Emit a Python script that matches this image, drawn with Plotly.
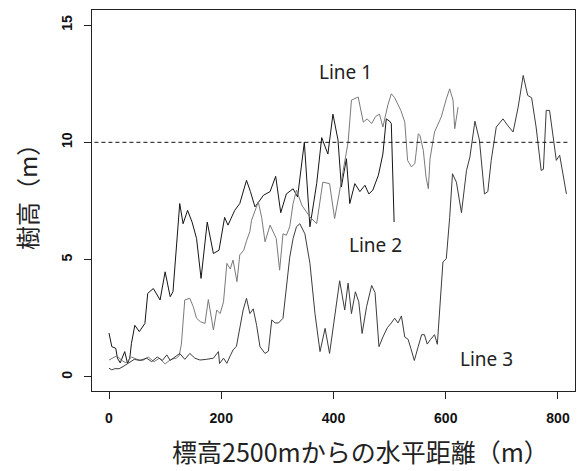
import plotly.graph_objects as go

# ---- data ----
a_x = [0, 5, 12, 15, 20, 28, 33, 37, 40, 46, 54, 64, 69, 79, 91, 100, 109, 114, 126, 132, 140, 148, 156, 164,
       175, 186, 196, 206, 212, 224, 233, 245, 252, 260, 268, 275, 287, 297, 306, 316, 328, 336, 348, 358, 370,
       379, 390, 399, 408, 414, 423, 429, 438, 447, 456, 463, 470, 480, 488, 494, 500, 503, 508]
a_y = [1.87, 1.29, 1.22, 0.8, 0.6, 1.08, 0.58, 0.8, 1.43, 2.2, 1.93, 2.28, 3.56, 3.77, 3.28, 4.48, 3.42, 3.63,
       7.39, 6.53, 7.1, 6.6, 5.9, 4.2, 6.6, 5.26, 5.4, 6.8, 6.47, 7.1, 7.39, 8.38, 7.9, 7.25, 7.5, 7.74, 7.9,
       8.55, 7.0, 7.8, 8.02, 7.67, 10.0, 6.4, 8.24, 10.2, 9.5, 11.2, 10.1, 8.1, 9.3, 7.39, 8.24, 7.9, 8.17, 7.8,
       7.96, 8.6, 9.5, 11.0, 10.9, 10.8, 6.6]

b_x = [0, 7, 14, 23, 30, 40, 50, 60, 70, 80, 90, 100, 110, 120, 125, 129, 132, 135, 144, 150, 156, 163, 171,
       177, 186, 192, 198, 204, 210, 216, 221, 228, 233, 240, 245, 251, 254, 260, 266, 272, 278, 287, 298, 304,
       310, 316, 322, 328, 334, 344, 358, 370, 381, 393, 402, 410, 420, 426, 432, 444, 453, 460, 468, 475, 482,
       488, 497, 503, 509, 520, 527, 530, 532, 539, 545, 551, 554, 560, 565, 569, 572, 580, 586, 592, 601, 607,
       613, 616, 622]
b_y = [0.72, 0.8, 0.9, 0.7, 0.6, 0.85, 0.75, 0.7, 0.85, 0.65, 0.8, 0.55, 0.75, 0.8, 0.9, 1.4, 2.3, 3.28, 3.35,
       3.0, 2.5, 2.35, 2.28, 3.3, 2.0, 2.85, 2.7, 3.2, 4.84, 4.6, 4.98, 4.06, 5.2, 5.4, 5.8, 6.2, 6.68, 7.1,
       7.46, 6.8, 5.76, 6.47, 5.9, 4.55, 6.1, 6.04, 6.4, 7.39, 7.96, 7.3, 6.82, 6.53, 8.3, 8.24, 6.75, 7.8, 9.23,
       10.0, 11.8, 11.93, 10.86, 11.0, 10.8, 11.1, 11.2, 10.65, 11.6, 12.07, 11.9, 11.36, 10.86, 10.0, 9.23, 8.95,
       9.1, 10.36, 10.3, 9.66, 8.5, 8.02, 9.3, 10.44, 10.8, 11.08, 11.85, 12.28, 11.8, 10.58, 11.5]

c_x = [0, 5, 10, 18, 25, 35, 45, 55, 67, 76, 86, 95, 103, 109, 115, 121, 126, 135, 144, 153, 162, 174, 186,
       195, 197, 204, 210, 216, 221, 227, 233, 239, 245, 251, 257, 263, 269, 278, 284, 290, 296, 302, 310, 316,
       322, 328, 334, 340, 349, 358, 367, 376, 385, 393, 402, 411, 420, 426, 432, 439, 445, 451, 459, 468, 474,
       481, 488, 496, 503, 509, 515, 521, 527, 533, 538, 544, 551, 557, 562, 567, 573, 580, 585, 590, 595, 601,
       607, 612, 619, 628, 637, 643, 652, 660, 669, 675, 681, 690, 702, 711, 720, 729, 738, 746, 753, 761, 770,
       774, 779, 785, 791, 797, 803, 809, 815]
c_y = [0.37, 0.3, 0.35, 0.35, 0.44, 0.6, 0.75, 0.7, 0.8, 0.65, 0.85, 0.7, 0.94, 0.7, 0.8, 0.9, 1.0, 0.75, 1.0,
       0.8, 0.72, 0.75, 0.8, 1.08, 0.57, 0.8, 0.58, 0.9, 1.15, 1.3, 2.0, 2.85, 3.35, 2.7, 2.9, 2.2, 1.29, 1.0,
       1.1, 2.43, 2.3, 2.3, 2.5, 3.84, 5.1, 5.9, 6.4, 6.53, 6.1, 4.84, 2.7, 1.08, 2.07, 1.0, 2.6, 4.1, 2.85, 4.0,
       2.7, 3.63, 3.2, 1.85, 3.0, 3.9, 3.6, 1.29, 1.7, 2.1, 2.3, 2.5, 2.3, 2.6, 1.7, 1.6, 1.2, 0.7, 1.3, 1.8,
       1.8, 1.4, 1.6, 1.8, 1.39, 3.0, 4.9, 5.04, 6.8, 8.66, 8.3, 7.0, 8.8, 9.37, 10.9, 10.1, 7.8, 7.9, 9.23,
       10.65, 11.0, 10.7, 10.44, 11.5, 12.85, 12.0, 11.9, 10.65, 8.8, 8.85, 11.36, 11.36, 10.2, 9.23, 9.45,
       8.6, 7.8]

x_ticks = [0, 200, 400, 600, 800]
y_ticks = [0, 5, 10, 15]
ref_height = 10
line_labels = ["Line 1", "Line 2", "Line 3"]
x_title = "標高2500mからの水平距離（m）"
y_title = "樹高（m）"

fig = go.Figure()
fig.add_trace(go.Scatter(x=a_x, y=a_y, mode="lines", line=dict(color="#151515", width=1), showlegend=False))
fig.add_trace(go.Scatter(x=b_x, y=b_y, mode="lines", line=dict(color="#7a7a7a", width=1), showlegend=False))
fig.add_trace(go.Scatter(x=c_x, y=c_y, mode="lines", line=dict(color="#3c3c3c", width=1), showlegend=False))

fig.add_shape(type="line", xref="paper", yref="y", x0=0.005, x1=0.985, y0=ref_height, y1=ref_height,
              line=dict(color="#111", width=1, dash="4px,3px"))

label_pos = [(422, 12.98), (474.5, 5.62), (672, 0.77)]
for txt, (lx, ly) in zip(line_labels, label_pos):
    fig.add_annotation(x=lx, y=ly, xref="x", yref="y", text=txt, showarrow=False,
                       font=dict(family="Noto Sans", size=19, color="#222"))

fig.add_annotation(x=0.555, y=-0.21, xref="paper", yref="paper", text=x_title, showarrow=False,
                   font=dict(family="Noto Sans CJK JP", size=25, color="#222"))
fig.add_annotation(x=-0.175, y=0.525, xref="paper", yref="paper", text=y_title, showarrow=False,
                   textangle=-90, font=dict(family="Noto Sans CJK JP", size=24, color="#222"))

axis_common = dict(showgrid=False, zeroline=False, showline=True, mirror=True, linecolor="#222",
                   linewidth=1, ticks="outside", ticklen=7, tickcolor="#222", tickwidth=1, automargin=False,
                   tickfont=dict(family="Liberation Sans", size=14, color="#111", weight="bold"))

fig.update_xaxes(range=[-30.3, 830.3], tickvals=x_ticks, ticktext=[str(v) for v in x_ticks],
                 ticklabelstandoff=7, **axis_common)
fig.update_yaxes(range=[-0.6, 15.64], tickvals=y_ticks, ticktext=[str(v) for v in y_ticks],
                 tickangle=-90, ticklabelstandoff=6, **axis_common)

fig.update_layout(width=577, height=471, margin=dict(l=92, r=2, t=10, b=80, autoexpand=False),
                  plot_bgcolor="white", paper_bgcolor="white")

fig.write_html("out.html", config={"displayModeBar": False},
               post_script="document.body.style.margin='0';document.body.style.padding='0';")
